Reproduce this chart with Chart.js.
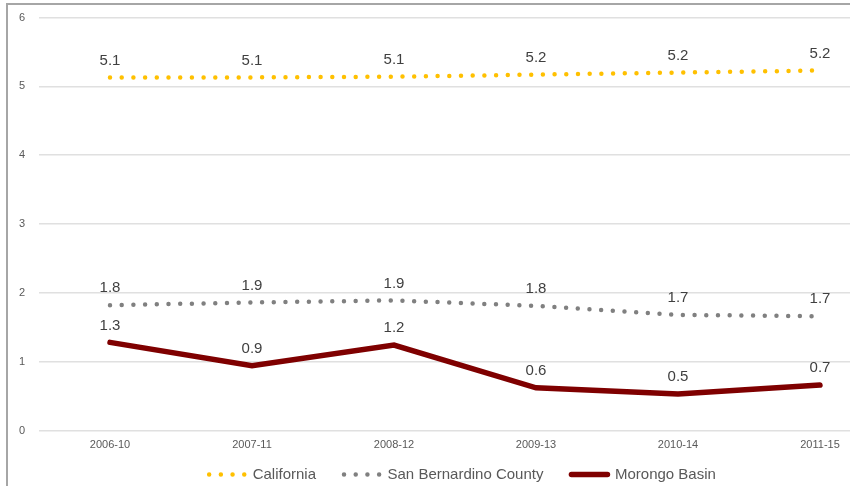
<!DOCTYPE html>
<html>
<head>
<meta charset="utf-8">
<script src="https://cdn.jsdelivr.net/npm/chart.js@4/dist/chart.umd.min.js"></script>
<style>
  html, body { margin: 0; padding: 0; background: #ffffff; overflow: hidden; width: 850px; height: 486px; }
  #wrap { position: absolute; left: 0; top: 0; width: 906px; height: 492px; }
  #frame { position: absolute; left: 6px; top: 3px; width: 1000px; height: 600px;
           border-left: 2px solid #a6a6a6; border-top: 2px solid #a6a6a6; pointer-events: none; }
</style>
</head>
<body>
<div id="wrap"><canvas id="c" width="906" height="492"></canvas></div>
<div id="frame"></div>
<script>
const categories = ['2006-10', '2007-11', '2008-12', '2009-13', '2010-14', '2011-15'];
const california = [5.13, 5.13, 5.14, 5.17, 5.20, 5.23];
const sanBernardino = [1.82, 1.86, 1.89, 1.81, 1.68, 1.66];
const morongoBasin = [1.28, 0.94, 1.24, 0.62, 0.53, 0.66];
const yTicks = [0, 1, 2, 3, 4, 5, 6];

const FONT = "'Liberation Sans', Arial, sans-serif";

const dataLabels = {
  id: 'dataLabels',
  afterDatasetsDraw(chart) {
    const ctx = chart.ctx;
    ctx.save();
    ctx.font = '15px ' + FONT;
    ctx.fillStyle = '#404040';
    ctx.textAlign = 'center';
    ctx.textBaseline = 'middle';
    chart.data.datasets.forEach((ds, i) => {
      const meta = chart.getDatasetMeta(i);
      meta.data.forEach((pt, j) => {
        ctx.fillText(Number(ds.data[j]).toFixed(1), pt.x, pt.y - 17);
      });
    });
    ctx.restore();
  }
};

new Chart(document.getElementById('c'), {
  type: 'line',
  data: {
    labels: categories,
    datasets: [
      {
        label: 'California',
        data: california,
        borderColor: '#FFC000',
        backgroundColor: '#FFC000',
        borderWidth: 4.5,
        borderDash: [0, 11.7],
        borderCapStyle: 'round',
        pointRadius: 0,
        tension: 0,
        fill: false
      },
      {
        label: 'San Bernardino County',
        data: sanBernardino,
        borderColor: '#808080',
        backgroundColor: '#808080',
        borderWidth: 4.5,
        borderDash: [0, 11.7],
        borderCapStyle: 'round',
        pointRadius: 0,
        tension: 0,
        fill: false
      },
      {
        label: 'Morongo Basin',
        data: morongoBasin,
        borderColor: '#7F0000',
        backgroundColor: '#7F0000',
        borderWidth: 5.5,
        borderCapStyle: 'round',
        borderJoinStyle: 'miter',
        pointRadius: 0,
        tension: 0,
        fill: false
      }
    ]
  },
  options: {
    responsive: false,
    animation: false,
    devicePixelRatio: 1,
    layout: { autoPadding: false, padding: { left: 19, right: 0, top: 17.5, bottom: 0 } },
    plugins: {
      tooltip: { enabled: false },
      legend: {
        position: 'bottom',
        labels: {
          usePointStyle: true,
          pointStyle: 'line',
          pointStyleWidth: 36,
          boxHeight: 15,
          padding: 28,
          color: '#595959',
          font: { family: FONT, size: 15 },
          generateLabels(chart) {
            const items = Chart.defaults.plugins.legend.labels.generateLabels(chart);
            items.forEach(it => {
              const ds = chart.data.datasets[it.datasetIndex];
              it.lineDash = ds.borderDash || [];
              it.lineCap = 'round';
              it.lineWidth = ds.borderWidth;
              it.strokeStyle = ds.borderColor;
              it.fillStyle = ds.borderColor;
              it.pointStyle = 'line';
            });
            return items;
          }
        }
      }
    },
    scales: {
      x: {
        offset: true,
        grid: { display: false, drawTicks: false },
        border: { display: false },
        ticks: { color: '#595959', font: { family: FONT, size: 11 }, mirror: true, padding: -21, maxRotation: 0 },
        afterFit(scale) { scale.height = 8.5; }
      },
      y: {
        min: 0,
        max: 6,
        afterBuildTicks(scale) { scale.ticks = yTicks.map(v => ({ value: v })); },
        grid: { color: '#e0e0e0', lineWidth: 1.6, drawTicks: false },
        border: { display: false },
        ticks: { color: '#595959', font: { family: FONT, size: 11 }, padding: 0, crossAlign: 'far' },
        afterFit(scale) { scale.width = 20; }
      },
      yRight: {
        type: 'linear',
        position: 'right',
        min: 0,
        max: 6,
        grid: { display: false, drawTicks: false },
        border: { display: false },
        ticks: { display: false },
        afterFit(scale) { scale.width = 15; }
      }
    }
  },
  plugins: [dataLabels]
});
</script>
</body>
</html>
